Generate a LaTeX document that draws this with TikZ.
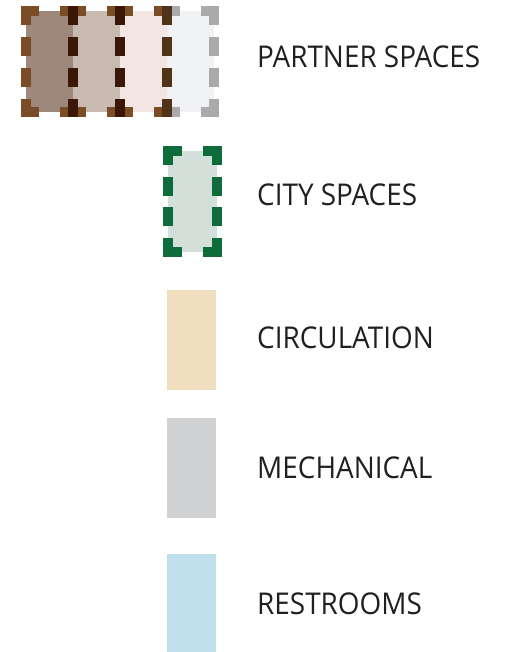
\documentclass[tikz,border=0pt]{standalone}
\usepackage{fontspec}
\setmainfont{Open Sans}[FakeStretch=0.93]
\usetikzlibrary{positioning}

\definecolor{labeltext}{RGB}{35,31,32}
\definecolor{pfillA}{RGB}{157,136,123}
\definecolor{pfillB}{RGB}{200,186,177}
\definecolor{pfillC}{RGB}{243,229,226}
\definecolor{pfillD}{RGB}{241,242,244}
\definecolor{pbrown}{RGB}{122,77,38}
\definecolor{pdark}{RGB}{58,23,6}
\definecolor{pmix}{RGB}{81,51,26}
\definecolor{pgray}{RGB}{170,170,173}
\definecolor{cgreen}{RGB}{14,107,58}
\definecolor{cfill}{RGB}{211,224,217}
\definecolor{circfill}{RGB}{239,223,190}
\definecolor{mechfill}{RGB}{209,210,212}
\definecolor{restfill}{RGB}{191,224,235}

\begin{document}
\begin{tikzpicture}[x=1pt, y=-1pt,
        label/.style={anchor=base west, inner sep=0pt, text=labeltext,
            font=\fontsize{30}{36}\selectfont},
        swatch/.style={rectangle, inner sep=0pt, outer sep=0pt,
            minimum width=49pt, minimum height=100pt},
        border/.style={line width=10pt, line cap=rect},
        vside/.style={border, dash pattern=on 9pt off 21.67pt on 9pt off 21.67pt on 9pt off 21.67pt on 9pt},
        hside/.style={border, dash pattern=on #1 off 31pt on #1}
    ]
    \useasboundingbox (0,0) rectangle (519,652);

    % partner spaces
    \node[swatch, fill=pfillA, minimum width=47pt, minimum height=101pt] (p1) at (49.5,62) {};
    \node[swatch, fill=pfillB, minimum width=47pt, minimum height=101pt] (p2) at (96.5,62) {};
    \node[swatch, fill=pfillC, minimum width=47pt, minimum height=101pt] (p3) at (143.5,62) {};
    \node[swatch, fill=pfillD, minimum width=47pt, minimum height=101pt] (p4) at (190.5,62) {};
    \foreach \p in {p1,p2,p3} {
        \draw[hside=8pt, pbrown] (\p.north west) -- (\p.north east);
        \draw[hside=8pt, pbrown] (\p.south west) -- (\p.south east);
    }
    \draw[hside=8pt, pgray] (p4.north west) -- (p4.north east);
    \draw[hside=8pt, pgray] (p4.south west) -- (p4.south east);
    \draw[vside, pbrown] (p1.north west) -- (p1.south west);
    \draw[vside, pdark] (p1.north east) -- (p1.south east);
    \draw[vside, pdark] (p2.north east) -- (p2.south east);
    \draw[vside, pmix] (p3.north east) -- (p3.south east);
    \draw[vside, pgray] (p4.north east) -- (p4.south east);

    % city spaces
    \node[swatch, fill=cfill, minimum height=101pt] (city) at (192.5,201.5) {};
    \draw[hside=9pt, cgreen] (city.north west) -- (city.north east);
    \draw[hside=9pt, cgreen] (city.south west) -- (city.south east);
    \draw[vside, cgreen] (city.north west) -- (city.south west);
    \draw[vside, cgreen] (city.north east) -- (city.south east);

    % plain swatches
    \node[swatch, fill=circfill] (circ) at (191.5,340) {};
    \node[swatch, fill=mechfill] (mech) at (191.5,468) {};
    \node[swatch, fill=restfill] (rest) at (191.5,604) {};

    % labels
    \node[label] (partnerlbl) at (257,68) {PARTNER SPACES};
    \node[label] (citylbl) at (257,205) {CITY SPACES};
    \node[label] (circlbl) at (257,348) {CIRCULATION};
    \node[label] (mechlbl) at (257,478) {MECHANICAL};
    \node[label] (restlbl) at (257,614) {RESTROOMS};
\end{tikzpicture}
\end{document}
